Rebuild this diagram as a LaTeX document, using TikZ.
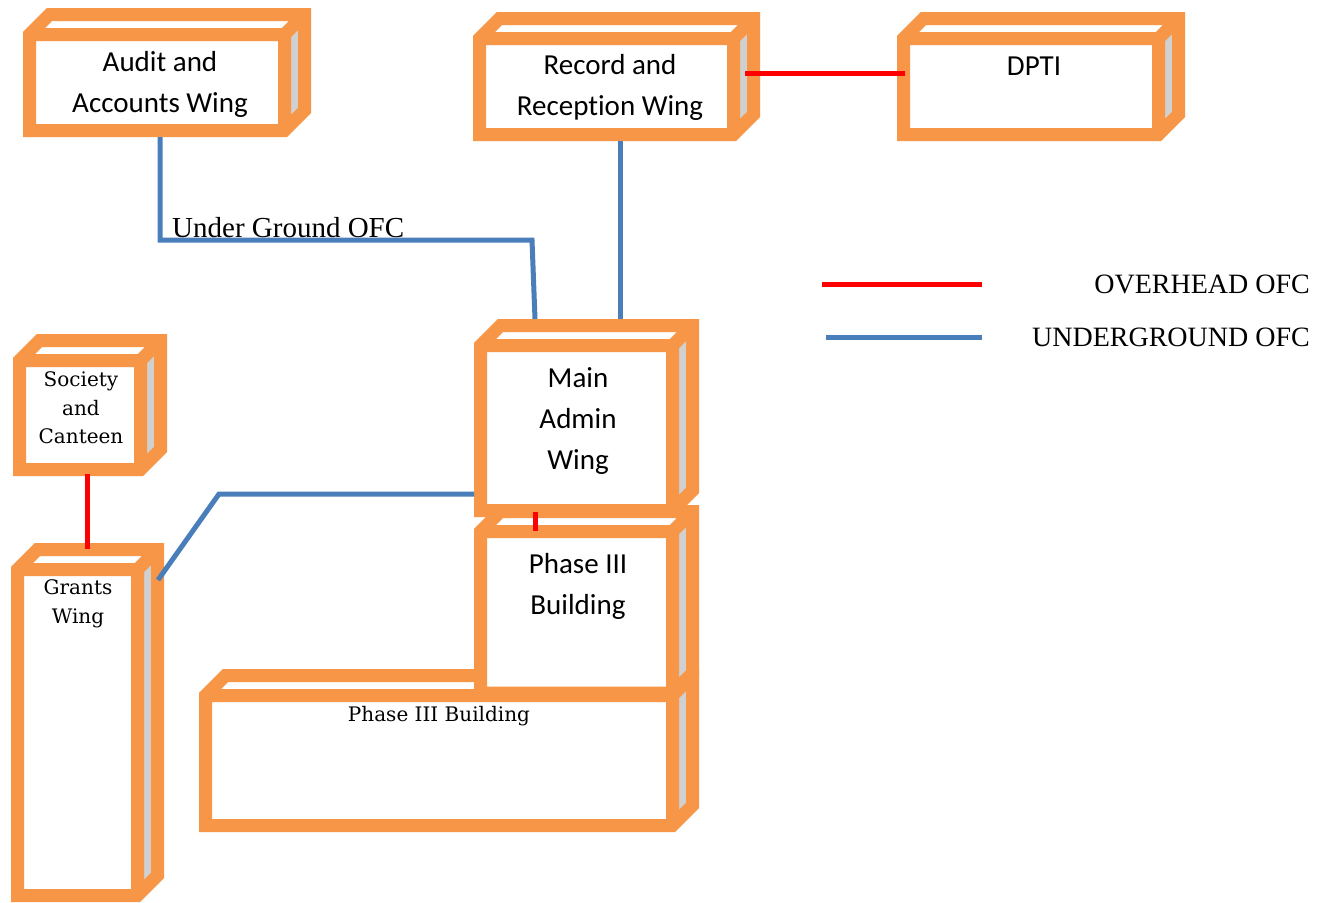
\documentclass[tikz,border=0pt]{standalone}
\usepackage{fontspec}
\setmainfont{Liberation Serif}
\newfontfamily\calfont[Ligatures=NoCommon]{Carlito}
\newfontfamily\dvsfont{DejaVu Serif}
\usetikzlibrary{calc}
\definecolor{boxorange}{HTML}{F79646}
\definecolor{sidegray}{HTML}{D0D0D0}
\definecolor{ugblue}{HTML}{4A7EBB}
\definecolor{ohred}{HTML}{FF0000}
\tikzset{
  cubeline/.style={draw=boxorange, line width=13pt, line join=miter},
  anchorbox/.style={inner sep=0pt, outer sep=0pt, draw=none},
  ugline/.style={draw=ugblue, line width=5pt},
  ohline/.style={draw=ohred, line width=5pt},
  caltext/.style={font=\calfont\fontsize{29}{41}\selectfont, align=center, inner sep=0pt},
  dvstext/.style={font=\dvsfont\fontsize{20}{28.5}\selectfont, align=center, inner sep=0pt},
  legendtext/.style={font=\fontsize{28}{32}\selectfont, inner sep=0pt, anchor=east},
}
% #1 name, #2 x0, #3 y0, #4 x1, #5 y1 (stroke-centre coordinates), #6 depth
\newcommand\cubebox[6]{%
  \fill[white] (#2,#3+#6) -- (#2+#6,#3) -- (#4,#3) -- (#4,#5-#6) -- (#4-#6,#5) -- (#2,#5) -- cycle;
  \fill[sidegray] (#4-#6,#3+#6) -- (#4,#3) -- (#4,#5-#6) -- (#4-#6,#5) -- cycle;
  \draw[cubeline] (#2,#3+#6) -- (#2+#6,#3) -- (#4,#3) -- (#4,#5-#6) -- (#4-#6,#5) -- (#2,#5) -- cycle
    (#2,#3+#6) -- (#4-#6,#3+#6) -- (#4,#3)
    (#4-#6,#3+#6) -- (#4-#6,#5);
  \node[anchorbox, minimum width={(#4-#2+13)*1pt}, minimum height={(#5-#3+13)*1pt}] (#1) at ({(#2+#4)/2},{(#3+#5)/2}) {};
}
\begin{document}
\begin{tikzpicture}[x=1pt,y=-1pt]
\useasboundingbox[fill=white] (0,0) rectangle (1330,902);

% boxes
\cubebox{audit}{29.5}{14.5}{304.5}{130.5}{20}
\cubebox{record}{479.5}{18.5}{753.5}{134.5}{20}
\cubebox{dpti}{903.5}{18.5}{1178.5}{134.5}{20}
\cubebox{society}{19.5}{340.5}{160.5}{469.5}{20}
\cubebox{grants}{17.5}{549.5}{157.5}{895.5}{20}
\cubebox{phaselow}{205.5}{675.5}{692.5}{825.5}{20}
\cubebox{phaseup}{480.5}{511.5}{692.5}{693}{20}
\cubebox{main}{480.5}{325.5}{692.5}{510.5}{20}

% texts
\node[caltext] (audittxt) at (160,84) {Audit and\\Accounts Wing};
\node[caltext] (recordtxt) at (610,87) {Record and\\Reception Wing};
\node[caltext] (dptitxt) at (1034,66) {DPTI};
\node[caltext] (maintxt) at (578,421) {Main\\Admin\\Wing};
\node[caltext] (phaseuptxt) at (578,586) {Phase III\\Building};
\node[dvstext] (phaselowtxt) at (439,716) {Phase III Building};
\node[dvstext] (societytxt) at (81,408) {Society\\and\\Canteen};
\node[dvstext] (grantstxt) at (78,604) {Grants\\Wing};
\node[font=\fontsize{29}{32}\selectfont, inner sep=0pt, anchor=west] (uglabel) at (172,228) {Under Ground OFC};

% connectors
\coordinate (b1) at (160,240);
\coordinate (b2) at (532,240);
\draw[ugline] (audit.south -| b1) -- (b1) -- (b2) -- ([xshift=-51.5pt]main.north);
\draw[ugline] ([xshift=3.5pt]record.south) -- ([xshift=3.5pt]record.south |- main.north);
\draw[ohline] ([shift={(-15pt,3.5pt)}]record.east) -- ([shift={(8pt,3.5pt)}]dpti.west);
\draw[ohline] ([shift={(-3pt,2pt)}]society.south) -- ([shift={(-0.5pt,-6pt)}]grants.north);
\coordinate (b3) at (219,494);
\coordinate (gend) at (158,580);
\draw[ugline] ([yshift=-76pt]main.west) -- (b3) -- (gend);
\draw[ohline] ([shift={(-51.5pt,5pt)}]main.south) -- ([shift={(-51.5pt,-26pt)}]phaseup.north);

% legend
\coordinate (l1a) at (822,284);
\coordinate (l1b) at (982,284);
\coordinate (l2a) at (826,337);
\coordinate (l2b) at (982,337);
\draw[ohline] (l1a) -- (l1b);
\draw[ugline] (l2a) -- (l2b);
\node[legendtext] (lg1) at (1310,284) {OVERHEAD OFC};
\node[legendtext] (lg2) at (1310,337) {UNDERGROUND OFC};
\end{tikzpicture}
\end{document}
